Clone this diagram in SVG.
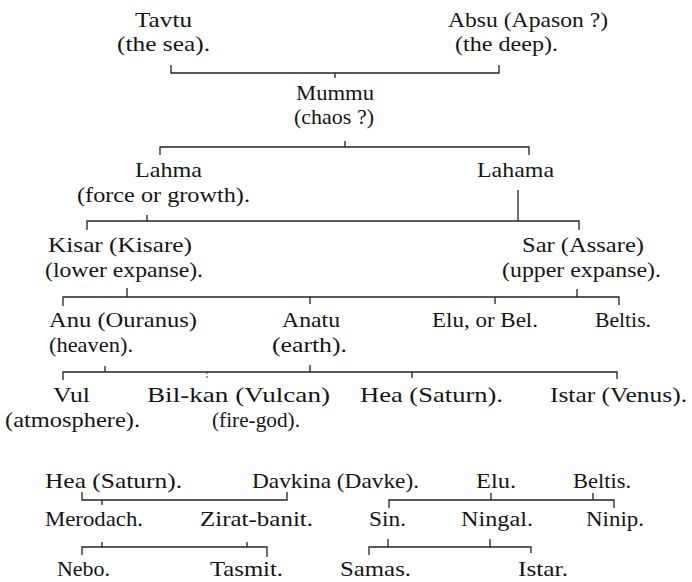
<svg xmlns="http://www.w3.org/2000/svg" width="692" height="582" viewBox="0 0 692 582">
<style>
text { font-family: "Liberation Serif", "Times New Roman", serif; font-size: 21px; fill: #151515; }
.ln { fill: none; stroke: #222; stroke-width: 1.3; }
.dot { fill: none; stroke: #444; stroke-width: 1.1; stroke-dasharray: 2 2; }
</style>
<rect width="692" height="582" fill="#fff"/>
<g id="connectors">
  <path class="ln" d="M171,65 V73 H499 V65 M335,73 V78"/>
  <path class="ln" d="M160,155 V147 H529 V155 M345,141 V147"/>
  <path class="ln" d="M518,190 V221 M87,230 V221 H579 V230 M147,215 V221"/>
  <path class="ln" d="M63,306 V297 H619 V305 M127,288 V297 M577,289 V297 M310,297 V304 M495,297 V304"/>
  <path class="ln" d="M63,380 V372 H617 V379 M105,366 V372 M310,365 V372 M412,372 V378"/>
  <path class="dot" d="M207,372 V380"/>
  <path class="ln" d="M82,492 V500 H287 V492 M102,500 V505"/>
  <path class="ln" d="M82,555 V547 H267 V557 M102,542 V547 M247,542 V547"/>
  <path class="ln" d="M389,508 V500 H614 V508 M491,493 V500 M593,493 V500"/>
  <path class="ln" d="M369,555 V547 H531 V553 M388,539 V547 M490,539 V547"/>
</g>
<g id="tavtu"><text x="135" y="27" textLength="57" lengthAdjust="spacingAndGlyphs">Tavtu</text><text x="117" y="51" textLength="93" lengthAdjust="spacingAndGlyphs">(the sea).</text></g>
<g id="absu"><text x="448" y="27" textLength="160" lengthAdjust="spacingAndGlyphs">Absu (Apason ?)</text><text x="455" y="51" textLength="103" lengthAdjust="spacingAndGlyphs">(the deep).</text></g>
<g id="mummu"><text x="296" y="100" textLength="78" lengthAdjust="spacingAndGlyphs">Mummu</text><text x="294" y="124" textLength="80" lengthAdjust="spacingAndGlyphs">(chaos ?)</text></g>
<g id="lahma"><text x="135" y="177" textLength="67" lengthAdjust="spacingAndGlyphs">Lahma</text><text x="77" y="202" textLength="173" lengthAdjust="spacingAndGlyphs">(force or growth).</text></g>
<g id="lahama"><text x="477" y="177" textLength="77" lengthAdjust="spacingAndGlyphs">Lahama</text></g>
<g id="kisar"><text x="48" y="252" textLength="144" lengthAdjust="spacingAndGlyphs">Kisar (Kisare)</text><text x="45" y="277" textLength="158" lengthAdjust="spacingAndGlyphs">(lower expanse).</text></g>
<g id="sar"><text x="522" y="252" textLength="122" lengthAdjust="spacingAndGlyphs">Sar (Assare)</text><text x="502" y="277" textLength="159" lengthAdjust="spacingAndGlyphs">(upper expanse).</text></g>
<g id="anu"><text x="49" y="327" textLength="148" lengthAdjust="spacingAndGlyphs">Anu (Ouranus)</text><text x="49" y="352" textLength="84" lengthAdjust="spacingAndGlyphs">(heaven).</text></g>
<g id="anatu"><text x="282" y="327" textLength="58" lengthAdjust="spacingAndGlyphs">Anatu</text><text x="272" y="352" textLength="75" lengthAdjust="spacingAndGlyphs">(earth).</text></g>
<g id="elu-bel"><text x="432" y="327" textLength="106" lengthAdjust="spacingAndGlyphs">Elu, or Bel.</text></g>
<g id="beltis-1"><text x="595" y="327" textLength="56" lengthAdjust="spacingAndGlyphs">Beltis.</text></g>
<g id="vul"><text x="53" y="402" textLength="37" lengthAdjust="spacingAndGlyphs">Vul</text><text x="5" y="427" textLength="135" lengthAdjust="spacingAndGlyphs">(atmosphere).</text></g>
<g id="bilkan"><text x="147" y="402" textLength="183" lengthAdjust="spacingAndGlyphs">Bil-kan (Vulcan)</text><text x="212" y="427" textLength="88" lengthAdjust="spacingAndGlyphs">(fire-god).</text></g>
<g id="hea-1"><text x="360" y="402" textLength="143" lengthAdjust="spacingAndGlyphs">Hea (Saturn).</text></g>
<g id="istar-1"><text x="550" y="402" textLength="137" lengthAdjust="spacingAndGlyphs">Istar (Venus).</text></g>
<g id="hea-2"><text x="45" y="488" textLength="137" lengthAdjust="spacingAndGlyphs">Hea (Saturn).</text></g>
<g id="davkina"><text x="252" y="488" textLength="167" lengthAdjust="spacingAndGlyphs">Davkina (Davke).</text></g>
<g id="elu"><text x="476" y="488" textLength="40" lengthAdjust="spacingAndGlyphs">Elu.</text></g>
<g id="beltis-2"><text x="573" y="488" textLength="58" lengthAdjust="spacingAndGlyphs">Beltis.</text></g>
<g id="merodach"><text x="45" y="526" textLength="98" lengthAdjust="spacingAndGlyphs">Merodach.</text></g>
<g id="zirat-banit"><text x="200" y="526" textLength="113" lengthAdjust="spacingAndGlyphs">Zirat-banit.</text></g>
<g id="sin"><text x="369" y="526" textLength="37" lengthAdjust="spacingAndGlyphs">Sin.</text></g>
<g id="ningal"><text x="461" y="526" textLength="72" lengthAdjust="spacingAndGlyphs">Ningal.</text></g>
<g id="ninip"><text x="586" y="526" textLength="58" lengthAdjust="spacingAndGlyphs">Ninip.</text></g>
<g id="nebo"><text x="57" y="576" textLength="53" lengthAdjust="spacingAndGlyphs">Nebo.</text></g>
<g id="tasmit"><text x="210" y="576" textLength="73" lengthAdjust="spacingAndGlyphs">Tasmit.</text></g>
<g id="samas"><text x="340" y="576" textLength="71" lengthAdjust="spacingAndGlyphs">Samas.</text></g>
<g id="istar-2"><text x="518" y="576" textLength="50" lengthAdjust="spacingAndGlyphs">Istar.</text></g>
</svg>
